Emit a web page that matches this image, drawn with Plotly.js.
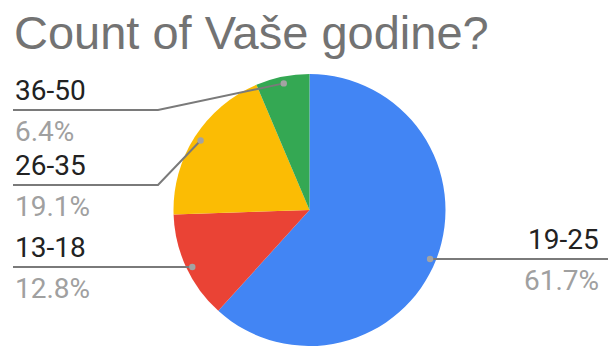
<!DOCTYPE html>
<html>
<head>
<meta charset="utf-8">
<script src="https://cdn.plot.ly/plotly-3.0.1.min.js"></script>
<style>html,body{margin:0;padding:0;background:#fff;}#chart{width:608px;height:347px;}</style>
</head>
<body>
<div id="chart"></div>
<script>
// ---- data ----
const categories = ['19-25', '13-18', '26-35', '36-50'];
const counts = [29, 6, 9, 3];
const colors = ['#4285F4', '#EA4335', '#FBBC04', '#34A853'];
const titleText = 'Count of Vaše godine?';

// ---- layout helpers (pixel positions of page) ----
const W = 608, H = 347;
const cx = 309.5, cy = 210, R = 136;
const px = x => x / W;
const py = y => 1 - y / H;

// label placement: side, y of leader line, elbow x (null = straight)
const labelLayout = {
  '19-25': {side: 'right', lineY: 259, elbowX: null},
  '13-18': {side: 'left', lineY: 267, elbowX: null},
  '26-35': {side: 'left', lineY: 185, elbowX: 158},
  '36-50': {side: 'left', lineY: 110, elbowX: 158}
};

const total = counts.reduce((a, b) => a + b, 0);
const shapes = [];
const annotations = [];
let cum = 0;
categories.forEach((cat, i) => {
  const frac = counts[i] / total;
  const mid = cum + frac / 2;
  cum += frac;
  const ang = mid * 2 * Math.PI; // clockwise from 12 o'clock
  const rr = R * 0.95;
  const dx = cx + rr * Math.sin(ang);
  const dy = cy - rr * Math.cos(ang);
  const L = labelLayout[cat];
  const lineColor = '#7a7a7a';
  let path;
  const endX = L.side === 'left' ? 13 : W;
  if (L.elbowX !== null) {
    path = `M ${px(dx)} ${py(dy)} L ${px(L.elbowX)} ${py(L.lineY)} L ${px(endX)} ${py(L.lineY)}`;
  } else {
    path = `M ${px(dx)} ${py(L.lineY)} L ${px(endX)} ${py(L.lineY)}`;
  }
  shapes.push({type: 'path', xref: 'paper', yref: 'paper', path: path,
    line: {color: lineColor, width: 2}});
  const dotY = L.elbowX !== null ? dy : L.lineY;
  const dr = 3.2;
  shapes.push({type: 'circle', xref: 'paper', yref: 'paper',
    x0: px(dx - dr), x1: px(dx + dr), y0: py(dotY + dr), y1: py(dotY - dr),
    fillcolor: '#a3a3a3', line: {color: '#a3a3a3', width: 0}});
  const tx = L.side === 'left' ? px(13) : px(601);
  const xa = L.side === 'left' ? 'left' : 'right';
  annotations.push({xref: 'paper', yref: 'paper', x: tx, y: py(L.lineY - 20),
    xanchor: xa, yanchor: 'middle', text: cat, showarrow: false,
    font: {family: 'Roboto', size: 28, color: '#222222'}});
  annotations.push({xref: 'paper', yref: 'paper', x: tx, y: py(L.lineY + 21),
    xanchor: xa, yanchor: 'middle', text: (frac * 100).toFixed(1) + '%', showarrow: false,
    font: {family: 'Roboto', size: 28, color: '#a0a0a0'}});
});

const trace = {
  type: 'pie',
  labels: categories,
  values: counts,
  sort: false,
  direction: 'clockwise',
  rotation: 0,
  textinfo: 'none',
  hoverinfo: 'none',
  showlegend: false,
  marker: {colors: colors, line: {width: 0}},
  domain: {x: [px(cx - R), px(cx + R)], y: [py(cy + R), py(cy - R)]}
};

const layout = {
  width: W, height: H,
  margin: {l: 0, r: 0, t: 0, b: 0},
  paper_bgcolor: '#ffffff',
  title: {text: titleText, x: px(14), xanchor: 'left', xref: 'paper',
    y: py(33), yanchor: 'middle', yref: 'paper',
    font: {family: 'Liberation Sans', size: 47, color: '#737373'}},
  shapes: shapes,
  annotations: annotations
};

Plotly.newPlot('chart', [trace], layout, {staticPlot: true, displayModeBar: false});
</script>
</body>
</html>
